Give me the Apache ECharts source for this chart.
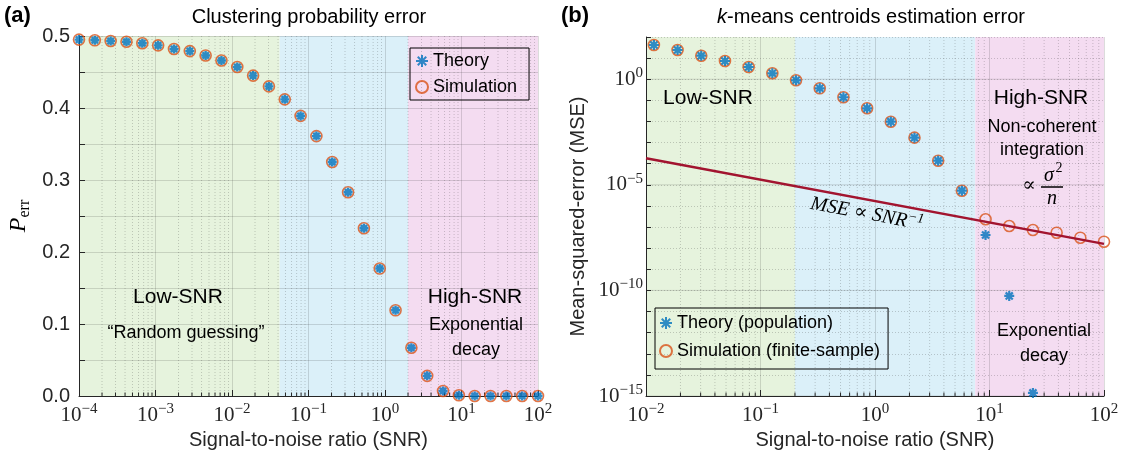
<!DOCTYPE html>
<html><head><meta charset="utf-8">
<script src="https://cdn.jsdelivr.net/npm/echarts@6/dist/echarts.min.js"></script>
<style>html,body{margin:0;padding:0;background:#fff}#c{width:1124px;height:465px}</style>
</head><body><div id="c"></div>
<script>
// ---------------- data ----------------
const snrA = [1.000e-4, 1.610e-4, 2.593e-4, 4.176e-4, 6.724e-4, 1.083e-3, 1.744e-3, 2.808e-3, 4.521e-3, 7.281e-3,
  0.01172, 0.01887, 0.03039, 0.04894, 0.07881, 0.1269, 0.2043, 0.3291, 0.5299, 0.8533,
  1.374, 2.212, 3.562, 5.737, 9.238, 14.87, 23.95, 38.57, 62.11, 100];
const perrTheory = [0.495, 0.494, 0.493, 0.492, 0.490, 0.487, 0.482, 0.479, 0.473, 0.466,
  0.457, 0.445, 0.430, 0.412, 0.389, 0.361, 0.325, 0.283, 0.233, 0.177,
  0.119, 0.067, 0.028, 0.007, 0.001, 0.000, 0.000, 0.000, 0.000, 0.000];
const perrSim = [0.495, 0.494, 0.493, 0.492, 0.490, 0.487, 0.482, 0.479, 0.473, 0.466,
  0.457, 0.445, 0.430, 0.412, 0.389, 0.361, 0.325, 0.283, 0.233, 0.177,
  0.119, 0.067, 0.028, 0.007, 0.001, 0.000, 0.000, 0.000, 0.000, 0.000];

const snrB = [0.01172, 0.01887, 0.03039, 0.04894, 0.07881, 0.1269, 0.2043, 0.3291, 0.5299, 0.8533,
  1.374, 2.212, 3.562, 5.737, 9.238, 14.87, 23.95, 38.57, 62.11, 100];
const mseTheory = [41.8, 24.2, 13.0, 7.31, 3.80, 1.91, 0.891, 0.372, 0.140, 0.0421,
  9.77e-3, 1.71e-3, 1.39e-4, 5.28e-6, 4.2e-8, 5.5e-11, 1.4e-15, null, null, null];
const mseSim = [41.8, 24.2, 13.0, 7.31, 3.80, 1.91, 0.891, 0.372, 0.140, 0.0421,
  9.77e-3, 1.71e-3, 1.39e-4, 5.28e-6, 2.34e-7, 1.12e-7, 7.28e-8, 5.42e-8, 3.14e-8, 2.03e-8];
const snrFit = [0.01, 100];
const mseFit = [1.8e-4, 1.6e-8];

const regionEdgesA = [1e-4, 0.042, 2.0, 100];
const regionEdgesB = [0.01, 0.2, 7.5, 100];

const xDecadesA = [-4, -3, -2, -1, 0, 1, 2];
const xDecadesB = [-2, -1, 0, 1, 2];
const yLabelsA = ['0.0', '0.1', '0.2', '0.3', '0.4', '0.5'];
const yMajorB = [-15, -10, -5, 0];

// ---------------- styles ----------------
const SANS = '"Liberation Sans", Arial, sans-serif';
const SERIF = '"Liberation Serif", "DejaVu Serif", serif';
const AX = '#262626';
const GRID = 'rgba(38,38,38,0.16)';
const MINOR = 'rgba(38,38,38,0.22)';
const SHADE = ['#e6f3dd', '#dbf0f9', '#f4dcf1'];
const BLUE = '#0072BD', ORANGE = '#D95319', DARKRED = '#A2142F';
const asterisk = 'path://M5,0L5,10M0,5L10,5M1.46,1.46L8.54,8.54M1.46,8.54L8.54,1.46';

const lg = Math.log10;
function pow10Label(v) {
  const e = Math.round(v);
  if (Math.abs(v - e) > 1e-6 || xDecadesA.indexOf(e) < 0) return '';
  return '{b|10}{s|' + (e < 0 ? '\u2212' + (-e) : String(e)) + '}';
}
function pow10LabelY(v) {
  const e = Math.round(v);
  if (Math.abs(v - e) > 1e-6 || yMajorB.indexOf(e) < 0) return '';
  return '{b|10}{s|' + (e < 0 ? '\u2212' + (-e) : String(e)) + '}';
}
const powRich = {
  b: { fontFamily: SERIF, fontSize: 21, color: AX },
  s: { fontFamily: SERIF, fontSize: 15, color: AX, padding: [0, 0, 12, 0] }
};

function xAxisCfg(gi, min, max, nameGap) {
  return {
    type: 'value', gridIndex: gi, min: min, max: max, interval: 1,
    name: 'Signal-to-noise ratio (SNR)', nameLocation: 'middle', nameGap: nameGap,
    nameTextStyle: { fontFamily: SANS, fontSize: 20, color: AX },
    axisLine: { show: true, onZero: false, lineStyle: { color: AX, width: 1 } },
    axisTick: { show: true, inside: true, length: 6, lineStyle: { color: AX } },
    axisLabel: { margin: 6, formatter: pow10Label, rich: powRich },
    splitLine: { show: true, lineStyle: { color: GRID, width: 1 } }
  };
}

// helpers for custom decoration series
function shadeItem(params, api) {
  const cs = params.coordSys;
  const x0 = api.coord([api.value(0), api.value(3)])[0];
  const x1 = api.coord([api.value(1), api.value(3)])[0];
  return { type: 'rect', shape: { x: x0, y: cs.y, width: x1 - x0, height: cs.height },
    style: { fill: SHADE[api.value(2)] } };
}
function minorXItem(params, api) {
  const cs = params.coordSys;
  const x = api.coord([api.value(0), api.value(1)])[0];
  return { type: 'group', children: [
    { type: 'line', shape: { x1: x, y1: cs.y, x2: x, y2: cs.y + cs.height },
      style: { stroke: MINOR, lineWidth: 1, lineDash: [1, 2] } },
    { type: 'line', shape: { x1: x, y1: cs.y + cs.height, x2: x, y2: cs.y + cs.height - 3.5 },
      style: { stroke: AX, lineWidth: 1 } }
  ] };
}
function majorYItem(params, api) {
  const cs = params.coordSys;
  const y = api.coord([api.value(0), api.value(1)])[1];
  return { type: 'line', shape: { x1: cs.x, y1: y, x2: cs.x + cs.width, y2: y },
    style: { stroke: GRID, lineWidth: 1 } };
}
function shadeData(edges, yRef) {
  const d = [];
  for (let i = 0; i < edges.length - 1; i++) d.push([lg(edges[i]), lg(edges[i + 1]), i, yRef]);
  return d;
}
function minorData(decades, yRef) {
  const d = [];
  for (let i = 0; i < decades.length - 1; i++)
    for (let m = 2; m <= 9; m++) d.push([decades[i] + lg(m), yRef]);
  return d;
}

const chart = echarts.init(document.getElementById('c'), null, { renderer: 'canvas' });

const option = {
  animation: false,
  backgroundColor: '#fff',
  grid: [
    { left: 79, right: 586, top: 36, bottom: 69 },
    { left: 646, right: 20, top: 37, bottom: 69 }
  ],
  xAxis: [xAxisCfg(0, -4, 2, 30), xAxisCfg(1, -2, 2, 33)],
  yAxis: [
    {
      type: 'value', gridIndex: 0, min: 0, max: 0.5, interval: 0.05,
      name: '{p|P}{e|err}', nameLocation: 'middle', nameGap: 46,
      nameTextStyle: { rich: {
        p: { fontFamily: SERIF, fontStyle: 'italic', fontSize: 24, color: '#000' },
        e: { fontFamily: SERIF, fontSize: 16, color: '#000', padding: [12, 0, 0, 0] } } },
      axisLine: { show: true, onZero: false, lineStyle: { color: AX, width: 1 } },
      axisTick: { show: true, inside: true, length: 6, lineStyle: { color: AX } },
      axisLabel: { margin: 9, fontFamily: SANS, fontSize: 20, color: AX,
        formatter: function (v) {
          const k = Math.round(v * 10);
          return Math.abs(v * 10 - k) < 1e-6 ? yLabelsA[k] : '';
        } },
      splitLine: { show: true, lineStyle: { color: GRID, width: 1 } }
    },
    {
      type: 'value', gridIndex: 1, min: -15, max: 2, interval: 1,
      name: 'Mean-squared-error (MSE)', nameLocation: 'middle', nameGap: 58,
      nameTextStyle: { fontFamily: SANS, fontSize: 20, color: AX },
      axisLine: { show: true, onZero: false, lineStyle: { color: AX, width: 1 } },
      axisTick: { show: true, inside: true, length: 5, lineStyle: { color: AX } },
      axisLabel: { margin: 3, formatter: pow10LabelY, rich: powRich },
      splitLine: { show: true, lineStyle: { color: MINOR, width: 1, type: [1, 2] } }
    }
  ],
  legend: [
    {
      left: 410, top: 48, orient: 'vertical', padding: [4, 12, 4, 5], itemGap: 8,
      itemWidth: 12, itemHeight: 12, itemTextGap: 10,
      borderColor: '#000', borderWidth: 1, backgroundColor: 'transparent',
      textStyle: { fontFamily: SANS, fontSize: 18, color: '#000' },
      data: [{ name: 'Theory', icon: asterisk }, { name: 'Simulation', icon: 'circle' }]
    },
    {
      left: 655, top: 308, orient: 'vertical', padding: [6, 8, 9, 4], itemGap: 10,
      itemWidth: 12, itemHeight: 12, itemTextGap: 12,
      borderColor: '#000', borderWidth: 1, backgroundColor: 'transparent',
      textStyle: { fontFamily: SANS, fontSize: 18, color: '#000' },
      data: [{ name: 'Theory (population)', icon: asterisk }, { name: 'Simulation (finite-sample)', icon: 'circle' }]
    }
  ],
  series: [
    // ----- panel (a) -----
    { type: 'custom', xAxisIndex: 0, yAxisIndex: 0, z: -3, silent: true, clip: false,
      renderItem: shadeItem, data: shadeData(regionEdgesA, 0.25) },
    { type: 'custom', xAxisIndex: 0, yAxisIndex: 0, z: -2, silent: true, clip: false,
      renderItem: minorXItem, data: minorData(xDecadesA, 0.25) },
    { name: 'Simulation', type: 'scatter', xAxisIndex: 0, yAxisIndex: 0, z: 3, clip: false, silent: true,
      symbol: 'circle', symbolSize: 11,
      itemStyle: { color: 'transparent', borderColor: ORANGE, borderWidth: 1.6 },
      data: snrA.map((s, i) => [lg(s), perrSim[i]]) },
    { name: 'Theory', type: 'scatter', xAxisIndex: 0, yAxisIndex: 0, z: 4, clip: false, silent: true,
      symbol: asterisk, symbolSize: 9,
      itemStyle: { color: 'transparent', borderColor: BLUE, borderWidth: 2.4 },
      data: snrA.map((s, i) => [lg(s), perrTheory[i]]) },
    // ----- panel (b) -----
    { type: 'custom', xAxisIndex: 1, yAxisIndex: 1, z: -3, silent: true, clip: false,
      renderItem: shadeItem, data: shadeData(regionEdgesB, -5) },
    { type: 'custom', xAxisIndex: 1, yAxisIndex: 1, z: -2, silent: true, clip: false,
      renderItem: minorXItem, data: minorData(xDecadesB, -5) },
    { type: 'custom', xAxisIndex: 1, yAxisIndex: 1, z: -1, silent: true, clip: false,
      renderItem: majorYItem, data: yMajorB.map(v => [0, v]) },
    { name: 'Simulation (finite-sample)', type: 'scatter', xAxisIndex: 1, yAxisIndex: 1, z: 3, clip: false, silent: true,
      symbol: 'circle', symbolSize: 11,
      itemStyle: { color: 'transparent', borderColor: ORANGE, borderWidth: 1.6 },
      data: snrB.map((s, i) => [lg(s), lg(mseSim[i])]) },
    { name: 'Theory (population)', type: 'scatter', xAxisIndex: 1, yAxisIndex: 1, z: 4, clip: false, silent: true,
      symbol: asterisk, symbolSize: 10,
      itemStyle: { color: 'transparent', borderColor: BLUE, borderWidth: 2.2 },
      data: snrB.map((s, i) => [lg(s), mseTheory[i] == null ? null : lg(mseTheory[i])]).filter(p => p[1] != null) },
    { name: 'fit', type: 'line', xAxisIndex: 1, yAxisIndex: 1, z: 5, silent: true, symbol: 'none',
      lineStyle: { color: DARKRED, width: 2.5 },
      data: snrFit.map((s, i) => [lg(s), lg(mseFit[i])]) }
  ],
  graphic: [
    { type: 'text', x: 4, y: 16, style: { text: '(a)', fontFamily: SANS, fontSize: 22, fontWeight: 'bold', fill: '#000', align: 'left', verticalAlign: 'middle' } },
    { type: 'text', x: 561, y: 16, style: { text: '(b)', fontFamily: SANS, fontSize: 22, fontWeight: 'bold', fill: '#000', align: 'left', verticalAlign: 'middle' } },
    { type: 'text', x: 309, y: 17, style: { text: 'Clustering probability error', fontFamily: SANS, fontSize: 20, fill: '#000', align: 'center', verticalAlign: 'middle' } },
    { type: 'text', x: 871, y: 17, style: { text: '{i|k}-means centroids estimation error', fontFamily: SANS, fontSize: 20, fill: '#000', align: 'center', verticalAlign: 'middle',
        rich: { i: { fontFamily: SANS, fontStyle: 'italic', fontSize: 20, fill: '#000' } } } },
    // panel (a) annotations
    { type: 'text', x: 178, y: 297, style: { text: 'Low-SNR', fontFamily: SANS, fontSize: 21, fill: '#000', align: 'center', verticalAlign: 'middle' } },
    { type: 'text', x: 186, y: 333, style: { text: '\u201CRandom guessing\u201D', fontFamily: SANS, fontSize: 18, fill: '#000', align: 'center', verticalAlign: 'middle' } },
    { type: 'text', x: 475, y: 297, style: { text: 'High-SNR', fontFamily: SANS, fontSize: 21, fill: '#000', align: 'center', verticalAlign: 'middle' } },
    { type: 'text', x: 476, y: 325, style: { text: 'Exponential', fontFamily: SANS, fontSize: 18, fill: '#000', align: 'center', verticalAlign: 'middle' } },
    { type: 'text', x: 476, y: 350, style: { text: 'decay', fontFamily: SANS, fontSize: 18, fill: '#000', align: 'center', verticalAlign: 'middle' } },
    // panel (b) annotations
    { type: 'text', x: 708, y: 98, style: { text: 'Low-SNR', fontFamily: SANS, fontSize: 21, fill: '#000', align: 'center', verticalAlign: 'middle' } },
    { type: 'text', x: 1041, y: 98, style: { text: 'High-SNR', fontFamily: SANS, fontSize: 21, fill: '#000', align: 'center', verticalAlign: 'middle' } },
    { type: 'text', x: 1042, y: 127, style: { text: 'Non-coherent', fontFamily: SANS, fontSize: 18, fill: '#000', align: 'center', verticalAlign: 'middle' } },
    { type: 'text', x: 1042, y: 150, style: { text: 'integration', fontFamily: SANS, fontSize: 18, fill: '#000', align: 'center', verticalAlign: 'middle' } },
    { type: 'text', x: 1029, y: 186, style: { text: '\u221D', fontFamily: SERIF, fontSize: 20, fill: '#000', align: 'center', verticalAlign: 'middle' } },
    { type: 'text', x: 1049, y: 176, style: { text: '\u03C3', fontFamily: SERIF, fontStyle: 'italic', fontSize: 20, fill: '#000', align: 'center', verticalAlign: 'middle' } },
    { type: 'text', x: 1059, y: 168, style: { text: '2', fontFamily: SERIF, fontSize: 14, fill: '#000', align: 'center', verticalAlign: 'middle' } },
    { type: 'line', shape: { x1: 1041, y1: 187, x2: 1063, y2: 187 }, style: { stroke: '#000', lineWidth: 1.5 } },
    { type: 'text', x: 1052, y: 199, style: { text: 'n', fontFamily: SERIF, fontStyle: 'italic', fontSize: 20, fill: '#000', align: 'center', verticalAlign: 'middle' } },
    { type: 'text', x: 867, y: 214, rotation: -0.185, style: { text: '{t|MSE \u221D SNR}{s|\u22121}', align: 'center', verticalAlign: 'middle',
        rich: { t: { fontFamily: SERIF, fontStyle: 'italic', fontSize: 20, fill: '#000' },
                s: { fontFamily: SERIF, fontStyle: 'italic', fontSize: 14, fill: '#000', padding: [0, 0, 10, 0] } } } },
    { type: 'text', x: 1044, y: 331, style: { text: 'Exponential', fontFamily: SANS, fontSize: 18, fill: '#000', align: 'center', verticalAlign: 'middle' } },
    { type: 'text', x: 1044, y: 356, style: { text: 'decay', fontFamily: SANS, fontSize: 18, fill: '#000', align: 'center', verticalAlign: 'middle' } }
  ]
};
chart.setOption(option);
</script>
</body></html>
